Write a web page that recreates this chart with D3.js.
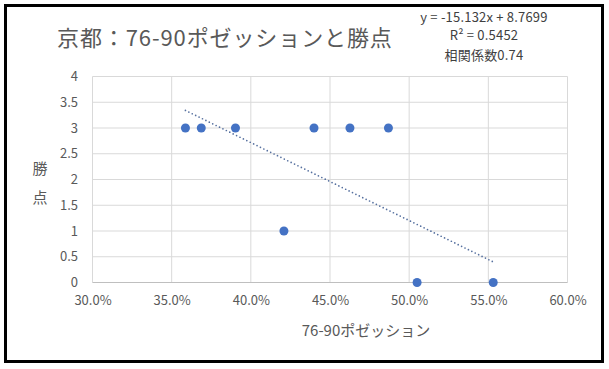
<!DOCTYPE html>
<html><head><meta charset="utf-8">
<script src="https://cdn.jsdelivr.net/npm/d3@7"></script>
<style>
html,body{margin:0;padding:0;background:#fff;}
text{font-family:"Noto Sans CJK JP","Noto Sans",sans-serif;}
</style></head>
<body><svg id="c" width="609" height="369"></svg>
<script>
const titleText = "京都：76-90ポゼッションと勝点";
const xTitle = "76-90ポゼッション";
const yTitleChars = ["勝","点"];
const possession = [0.3587, 0.3687, 0.3903, 0.4209, 0.4399, 0.4626, 0.4869, 0.5050, 0.5531];
const points = [3, 3, 3, 1, 3, 3, 3, 0, 0];
const xTicks = [0.30, 0.35, 0.40, 0.45, 0.50, 0.55, 0.60];
const yTicks = [0, 0.5, 1, 1.5, 2, 2.5, 3, 3.5, 4];
const slope = -15.132, intercept = 8.7699;
const eqLines = ["y = -15.132x + 8.7699", "R² = 0.5452", "相関係数0.74"];

const svg = d3.select("#c");
svg.append("rect").attr("x",0).attr("y",0).attr("width",609).attr("height",369).attr("fill","#fff");
svg.append("rect").attr("x",5.5).attr("y",5.5).attr("width",597).attr("height",356)
  .attr("fill","none").attr("stroke","#000").attr("stroke-width",3);

const x = d3.scaleLinear().domain([0.30,0.60]).range([92.5,567.5]);
const y = d3.scaleLinear().domain([0,4]).range([282.5,76.5]);

const g = svg.append("g");
g.selectAll(".hg").data(yTicks.filter(d=>d>0)).enter().append("line")
  .attr("x1",x(0.30)).attr("x2",x(0.60)).attr("y1",d=>y(d)).attr("y2",d=>y(d))
  .attr("stroke","#d9d9d9").attr("stroke-width",1);
g.selectAll(".vg").data(xTicks).enter().append("line")
  .attr("x1",d=>x(d)).attr("x2",d=>x(d)).attr("y1",y(4)).attr("y2",y(0))
  .attr("stroke","#d9d9d9").attr("stroke-width",1);
g.append("line").attr("x1",x(0.30)).attr("x2",x(0.60)).attr("y1",y(0)).attr("y2",y(0))
  .attr("stroke","#bfbfbf").attr("stroke-width",1);

const xAxis = d3.axisBottom(x).tickValues(xTicks).tickFormat(d3.format(".1%")).tickSize(0).tickPadding(0);
const xa = svg.append("g").attr("transform","translate(0,300)").call(xAxis);
xa.select(".domain").remove();
xa.selectAll("text").attr("dy","0.35em").attr("y",0).attr("fill","#595959").style("font-size","13px")
  .style("font-family","'Noto Sans CJK JP',sans-serif");

const yAxis = d3.axisLeft(y).tickValues(yTicks).tickFormat(d3.format("")).tickSize(0).tickPadding(0);
const ya = svg.append("g").attr("transform","translate(78,0)").call(yAxis);
ya.select(".domain").remove();
ya.selectAll("text").attr("fill","#595959").style("font-size","13px")
  .style("font-family","'Noto Sans CJK JP',sans-serif");

const xmin = d3.min(possession), xmax = d3.max(possession);
svg.append("line")
  .attr("x1",x(xmin)).attr("y1",y(slope*xmin+intercept))
  .attr("x2",x(xmax)).attr("y2",y(slope*xmax+intercept))
  .attr("stroke","#56709f").attr("stroke-width",1.7)
  .attr("stroke-dasharray","0,3.8").attr("stroke-linecap","round");

svg.selectAll(".pt").data(possession.map((p,i)=>[p,points[i]])).enter().append("circle")
  .attr("cx",d=>x(d[0])).attr("cy",d=>y(d[1])).attr("r",4.5).attr("fill","#4472c4");

svg.append("text").attr("x",57).attr("y",38).attr("dy","0.35em").text(titleText)
  .attr("fill","#595959").style("font-size","22px").style("letter-spacing","0.9px");
svg.selectAll(".eq").data(eqLines).enter().append("text")
  .attr("x",484).attr("y",(d,i)=>[17,35,55][i]).attr("dy","0.35em").attr("text-anchor","middle")
  .text(d=>d).attr("fill","#404040").style("font-size","13px").style("letter-spacing","0.2px");
svg.append("text").attr("x",366).attr("y",331).attr("dy","0.35em").attr("text-anchor","middle")
  .text(xTitle).attr("fill","#595959").style("font-size","15px");
svg.selectAll(".yt").data(yTitleChars).enter().append("text")
  .attr("x",40).attr("y",(d,i)=>169+i*29).attr("dy","0.35em").attr("text-anchor","middle")
  .text(d=>d).attr("fill","#595959").style("font-size","15px");
</script></body></html>
